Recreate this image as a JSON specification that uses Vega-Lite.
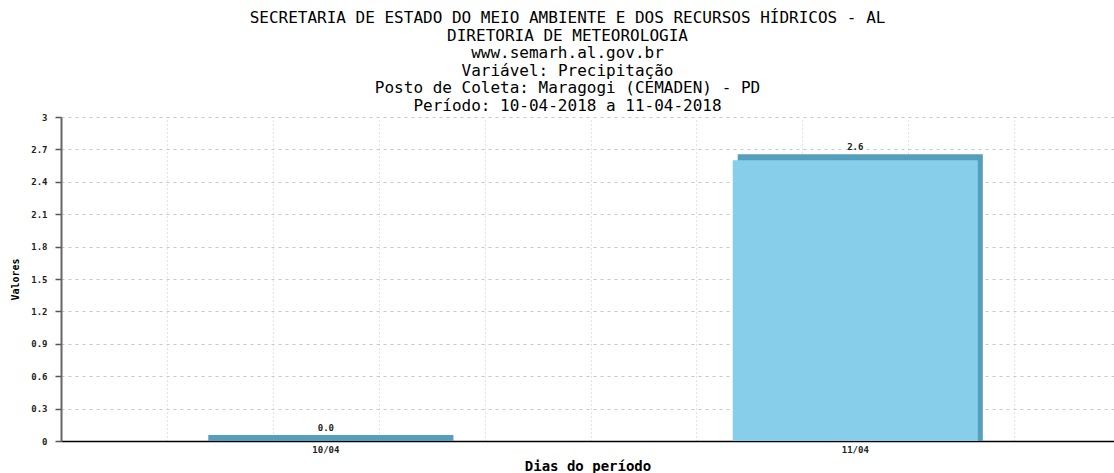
{
  "$schema": "https://vega.github.io/schema/vega-lite/v6.json",
  "autosize": "none",
  "width": 1053,
  "height": 324,
  "padding": {"left": 61, "top": 117, "right": 0, "bottom": 32},
  "background": "white",
  "title": {
    "text": [
      "SECRETARIA DE ESTADO DO MEIO AMBIENTE E DOS RECURSOS HÍDRICOS - AL",
      "DIRETORIA DE METEOROLOGIA",
      "www.semarh.al.gov.br",
      "Variável: Precipitação",
      "Posto de Coleta: Maragogi (CEMADEN) - PD",
      "Período: 10-04-2018 a 11-04-2018"
    ],
    "anchor": "middle",
    "font": "DejaVu Sans Mono",
    "fontSize": 16,
    "fontWeight": "normal",
    "lineHeight": 17.6,
    "color": "#000000",
    "offset": -1,
    "dx": -20
  },
  "data": {
    "values": [
      {"dia": "10/04", "valor": 0.0},
      {"dia": "11/04", "valor": 2.6}
    ]
  },
  "config": {
    "view": {"stroke": null},
    "axis": {"labelFont": "DejaVu Sans Mono", "titleFont": "DejaVu Sans Mono"}
  },
  "resolve": {"scale": {"x": "independent"}, "axis": {"x": "independent"}},
  "layer": [
    {
      "mark": {"type": "tick", "opacity": 0},
      "encoding": {
        "x": {
          "field": "valor",
          "type": "quantitative",
          "scale": {"domain": [0, 9.943], "nice": false, "zero": false},
          "axis": {
            "orient": "bottom",
            "values": [1, 2, 3, 4, 5, 6, 7, 8, 9],
            "grid": true,
            "gridColor": "#c8c8c8",
            "gridDash": [1, 3],
            "gridWidth": 1,
            "labels": false,
            "ticks": false,
            "domain": false,
            "title": null
          }
        }
      }
    },
    {
      "encoding": {
        "x": {
          "field": "dia",
          "type": "nominal",
          "sort": null,
          "scale": {"paddingInner": 0.537, "paddingOuter": 0.263, "align": 0.511},
          "axis": {
            "orient": "bottom",
            "title": "Dias do período",
            "titleFontSize": 14,
            "titleFontWeight": "bold",
            "titleColor": "#000000",
            "titlePadding": 5,
            "labelAngle": 0,
            "labelFontSize": 9,
            "labelFontWeight": "bold",
            "labelColor": "#222222",
            "labelPadding": 4,
            "ticks": false,
            "domainColor": "#000000",
            "domainWidth": 1.5,
            "grid": false
          }
        },
        "y": {
          "field": "valor",
          "type": "quantitative",
          "scale": {"domain": [0, 3], "nice": false},
          "axis": {
            "title": "Valores",
            "titleFontSize": 10,
            "titleFontWeight": "bold",
            "titleColor": "#000000",
            "titlePadding": 10,
            "values": [0, 0.3, 0.6, 0.9, 1.2, 1.5, 1.8, 2.1, 2.4, 2.7, 3],
            "format": ".1~f",
            "labelFontSize": 9,
            "labelFontWeight": "bold",
            "labelColor": "#222222",
            "labelPadding": 8,
            "tickSize": 6,
            "tickColor": "#555555",
            "tickWidth": 1.5,
            "domainColor": "#666666",
            "domainWidth": 2,
            "grid": true,
            "gridColor": "#c8c8c8",
            "gridDash": [3, 4],
            "gridWidth": 1
          }
        }
      },
      "layer": [
        {
          "mark": {"type": "bar", "color": "#569fbc", "xOffset": 5, "yOffset": -6, "y2Offset": 0},
          "encoding": {"y2": {"datum": 0}}
        },
        {"mark": {"type": "bar", "color": "#87ceeb"}},
        {
          "mark": {"type": "text", "dy": -13, "font": "DejaVu Sans Mono", "fontSize": 9, "fontWeight": "bold", "color": "#222222"},
          "encoding": {"text": {"field": "valor", "type": "quantitative", "format": ".1f"}}
        }
      ]
    }
  ]
}
